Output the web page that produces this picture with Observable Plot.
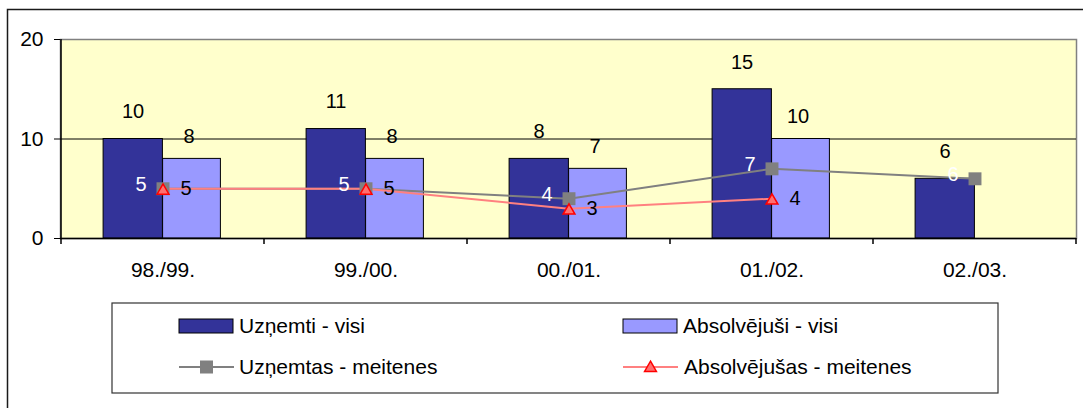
<!DOCTYPE html>
<html><head><meta charset="utf-8">
<script src="https://cdn.jsdelivr.net/npm/d3@7"></script>
<script src="https://cdn.jsdelivr.net/npm/@observablehq/plot@0.6"></script>
<style>body{margin:0;background:#fff} svg{display:block}</style>
</head><body><div id="chart"></div>
<script>
const categories = ["98./99.", "99./00.", "00./01.", "01./02.", "02./03."];
const uznemtiVisi = [10, 11, 8, 15, 6];
const absolvejusiVisi = [8, 8, 7, 10, null];
const uznemtasMeitenes = [5, 5, 4, 7, 6];
const absolvejusasMeitenes = [5, 5, 3, 4, null];
const yTicks = [0, 10, 20];
const seriesNames = ["Uzņemti - visi", "Absolvējuši - visi", "Uzņemtas - meitenes", "Absolvējušas - meitenes"];

const W = 1083, H = 408, mL = 60, mR = 7, mT = 39, mB = 170;
const bw = (W - mL - mR) / categories.length;
const font = "'Liberation Sans', Arial, sans-serif";
const C = {dark: "#333399", light: "#9999FF", gray: "#808080", redLine: "#FF8080", redFill: "#FF6F6F", redStroke: "#FF0000", bg: "#FFFFCC"};

const rows = categories.map((c, i) => ({c, uv: uznemtiVisi[i], av: absolvejusiVisi[i], um: uznemtasMeitenes[i], am: absolvejusasMeitenes[i]}));
const rowsAv = rows.filter(d => d.av != null);
const rowsAm = rows.filter(d => d.am != null);

const chart = Plot.plot({
  width: W, height: H, marginLeft: mL, marginRight: mR, marginTop: mT, marginBottom: mB,
  style: {fontFamily: font, fontSize: "21px", color: "#000", background: "transparent", overflow: "visible"},
  x: {type: "band", domain: categories, padding: 0, label: null},
  y: {domain: [0, 20], label: null},
  marks: [
    Plot.frame({fill: C.bg, stroke: C.gray, strokeWidth: 1.5}),
    Plot.ruleY([10], {stroke: "#000", strokeWidth: 1}),
    Plot.barY(rows, {x: "c", y: "uv", fill: C.dark, stroke: "#000", strokeWidth: 1, insetLeft: bw / 2 - 59.5, insetRight: bw / 2}),
    Plot.barY(rowsAv, {x: "c", y: "av", fill: C.light, stroke: "#000", strokeWidth: 1, insetLeft: bw / 2, insetRight: bw / 2 - 58}),
    Plot.ruleY([0], {stroke: "#000", strokeWidth: 1.5}),
    Plot.line(rows, {x: "c", y: "um", stroke: C.gray, strokeWidth: 2}),
    Plot.line(rows, {x: "c", y: "am", stroke: C.redLine, strokeWidth: 2}),
    Plot.dot(rows, {x: "c", y: "um", symbol: "square", r: 7.3, fill: C.gray, stroke: "none"}),
    Plot.dot(rowsAm, {x: "c", y: "am", symbol: "triangle", r: 4.4, dy: 2, fill: C.redFill, stroke: C.redStroke, strokeWidth: 1.5}),
    Plot.text(rows, {x: "c", y: "uv", text: d => String(d.uv), dx: -30, dy: -27, fontSize: 20, fill: "#000"}),
    Plot.text(rowsAv, {x: "c", y: "av", text: d => String(d.av), dx: 26, dy: -22, fontSize: 20, fill: "#000"}),
    Plot.text(rows, {x: "c", y: "um", text: d => String(d.um), dx: -22, dy: -4, fontSize: 20, fill: "#fff"}),
    Plot.text(rowsAm, {x: "c", y: "am", text: d => String(d.am), dx: 23, dy: 0, fontSize: 20, fill: "#000"}),
    Plot.axisY(yTicks, {tickSize: 6, tickPadding: 11, fontSize: 21, label: null, stroke: "#000"}),
    Plot.axisX({tickSize: 0, tickPadding: 24, fontSize: 21, label: null})
  ]
});
document.getElementById("chart").append(chart);

const svg = d3.select(chart);
const xs = chart.scale("x"), ys = chart.scale("y");
const y0 = ys.apply(0), y20 = ys.apply(20);
const xLeft = xs.apply(categories[0]);
const xRight = xs.apply(categories[categories.length - 1]) + xs.bandwidth;

// left axis line
svg.append("line").attr("x1", xLeft).attr("x2", xLeft).attr("y1", y20).attr("y2", y0)
  .attr("stroke", "#000").attr("stroke-width", 1.5);
// category boundary ticks
const bounds = categories.map(c => xs.apply(c)).concat([xRight]);
svg.append("g").selectAll("line").data(bounds).join("line")
  .attr("x1", d => d).attr("x2", d => d).attr("y1", y0).attr("y2", y0 + 6)
  .attr("stroke", "#000").attr("stroke-width", 1.5);

// outer chart border
svg.append("rect").attr("x", 7.5).attr("y", 9.5).attr("width", 1200).attr("height", 600)
  .attr("fill", "none").attr("stroke", "#1a1a1a").attr("stroke-width", 1.5);

// legend
const lg = svg.append("g").attr("font-family", font).attr("font-size", 21).attr("text-anchor", "start").attr("fill", "#000");
lg.append("rect").attr("x", 112).attr("y", 303).attr("width", 886).attr("height", 90)
  .attr("fill", "#fff").attr("stroke", "#333").attr("stroke-width", 1.2);
const cols = [179, 623];
const rowY = [326, 367];
// row 1: bar swatches
[[C.dark, seriesNames[0]], [C.light, seriesNames[1]]].forEach(([col, name], i) => {
  lg.append("rect").attr("x", cols[i]).attr("y", rowY[0] - 7).attr("width", 54).attr("height", 14)
    .attr("fill", col).attr("stroke", "#000").attr("stroke-width", 1);
  lg.append("text").attr("x", cols[i] + 60).attr("y", 333).attr("text-anchor", "start").text(name);
});
// row 2: line swatches
lg.append("line").attr("x1", cols[0]).attr("x2", cols[0] + 55).attr("y1", rowY[1]).attr("y2", rowY[1])
  .attr("stroke", C.gray).attr("stroke-width", 2);
lg.append("rect").attr("x", cols[0] + 21).attr("y", rowY[1] - 6.5).attr("width", 13).attr("height", 13).attr("fill", C.gray);
lg.append("text").attr("x", cols[0] + 60).attr("y", 374).attr("text-anchor", "start").text(seriesNames[2]);
lg.append("line").attr("x1", cols[1]).attr("x2", cols[1] + 55).attr("y1", rowY[1]).attr("y2", rowY[1])
  .attr("stroke", C.redLine).attr("stroke-width", 2);
lg.append("path").attr("transform", `translate(${cols[1] + 27.5},${rowY[1] + 1})`)
  .attr("d", d3.symbol(d3.symbolTriangle, 4.4 * 4.4 * Math.PI)())
  .attr("fill", C.redFill).attr("stroke", C.redStroke).attr("stroke-width", 1.5);
lg.append("text").attr("x", cols[1] + 61).attr("y", 374).attr("text-anchor", "start").text(seriesNames[3]);
</script>
</body></html>
